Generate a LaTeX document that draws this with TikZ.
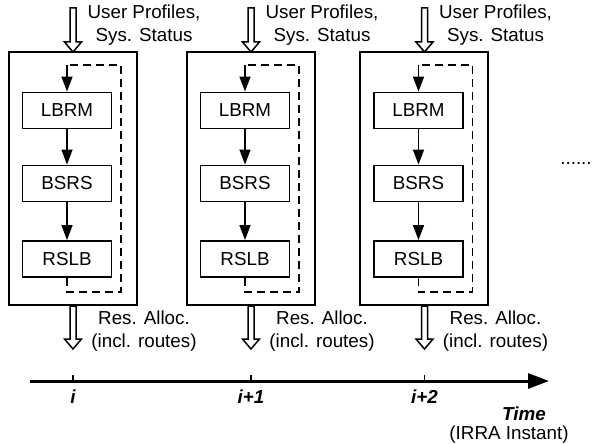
\documentclass[tikz,border=0pt]{standalone}
\usepackage{fontspec}
\setmainfont{Liberation Sans}
\usepackage{tikz}
\usetikzlibrary{calc,arrows.meta}

\tikzset{
  unitbox/.style={draw,line width=1.9pt,minimum width=89pt,minimum height=36pt,inner sep=0pt},
  outerbox/.style={draw,line width=2pt,minimum width=128pt,minimum height=253pt,inner sep=0pt},
  flow/.style={line width=1.6pt,-{Triangle[length=15pt,width=11pt]}},
  feedback/.style={line width=1.9pt,dash pattern=on 8pt off 5pt},
  hollow/.style={draw,line width=1.5pt,fill=white,line join=miter},
  timeline/.style={line width=3pt,-{Triangle[length=21pt,width=15pt]}},
  lbl/.style={font=\fontsize{18.8}{23}\selectfont,align=center,inner sep=0pt},
  ticklbl/.style={font=\fontsize{18.8}{23}\selectfont\bfseries\itshape,inner sep=0pt}
}

\begin{document}
\begin{tikzpicture}[x=1pt,y=-1pt]
\useasboundingbox (0,0) rectangle (592,444);

% one IRRA instant per block
\foreach \k/\dx/\tick in {0/0/i, 1/178/i+1, 2/351.5/i+2}{
  \begin{scope}[xshift=\dx pt]
  \node[outerbox] (outer\k) at (72.5,178.5) {};
  \node[unitbox,lbl] (lbrm\k) at (67,110.5) {LBRM};
  \node[unitbox,lbl] (bsrs\k) at (67,183.5) {BSRS};
  \node[unitbox,lbl] (rslb\k) at (67,259) {RSLB};
  \coordinate (fb\k) at (67,65);
  \coordinate (fbc\k) at (121,292);

  \draw[flow] (lbrm\k) -- (bsrs\k);
  \draw[flow] (bsrs\k) -- (rslb\k);
  \draw[flow] (fb\k) -- (lbrm\k);
  \draw[feedback] (rslb\k.south) |- (fbc\k) |- (fb\k);

  % input and output
  \draw[hollow] (70,8) -- (76,8) -- (76,42) -- (81.5,42) -- (73,52) -- (64.5,42) -- (70,42) -- cycle;
  \draw[hollow] (70,306) -- (76,306) -- (76,339) -- (81.5,339) -- (73,349) -- (64.5,339) -- (70,339) -- cycle;
  \node[lbl] (inlbl\k) at (144,25) {User Profiles,\\Sys. Status};
  \node[lbl] (outlbl\k) at (144,331) {Res. Alloc.\\(incl. routes)};

  % tick on the time axis
  \coordinate (tick\k) at (73,381);
  \draw[line width=1.6pt] (tick\k) -- ++(0,-6);
  \node[ticklbl] (ticklbl\k) at (73,397) {\tick};
  \end{scope}
}

% time axis
\coordinate (tstart) at (30,381);
\coordinate (tend) at (549,381);
\draw[timeline] (tstart) -- (tend);
\node[ticklbl] (timelbl) at (524,414) {Time};
\node[lbl] (irralbl) at (509,435) {(IRRA Instant)};

\node[lbl,anchor=base] (dots) at (576,164) {......};
\end{tikzpicture}
\end{document}
